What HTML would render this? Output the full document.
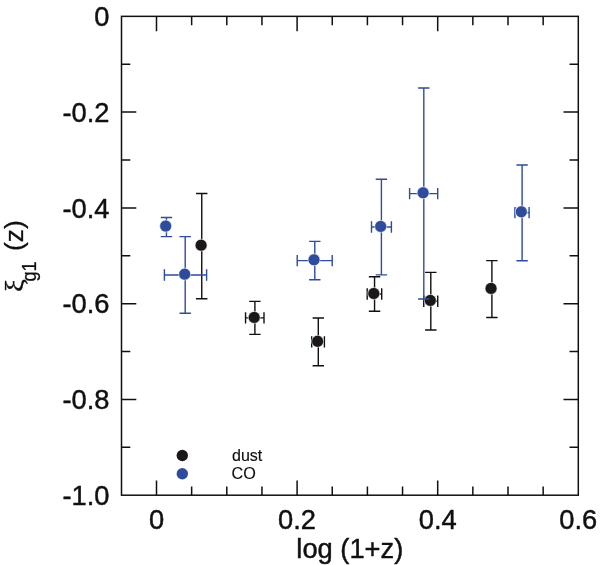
<!DOCTYPE html>
<html lang="en"><head><meta charset="utf-8"><title>xi_g1(z) vs log(1+z)</title>
<style>html,body{margin:0;padding:0;background:#fff}svg{display:block}</style></head>
<body>
<svg width="600" height="565" viewBox="0 0 600 565">
<rect width="600" height="565" fill="#ffffff"/>
<path d="M156.50 495.2 v-14.8 M156.50 16.35 v14.8 M191.65 495.2 v-8.8 M191.65 16.35 v8.8 M226.80 495.2 v-8.8 M226.80 16.35 v8.8 M261.95 495.2 v-8.8 M261.95 16.35 v8.8 M297.10 495.2 v-14.8 M297.10 16.35 v14.8 M332.25 495.2 v-8.8 M332.25 16.35 v8.8 M367.40 495.2 v-8.8 M367.40 16.35 v8.8 M402.55 495.2 v-8.8 M402.55 16.35 v8.8 M437.70 495.2 v-14.8 M437.70 16.35 v14.8 M472.85 495.2 v-8.8 M472.85 16.35 v8.8 M508.00 495.2 v-8.8 M508.00 16.35 v8.8 M543.15 495.2 v-8.8 M543.15 16.35 v8.8 M121.5 64.24 h8.8 M578.3 64.24 h-8.8 M121.5 112.12 h14.8 M578.3 112.12 h-14.8 M121.5 160.01 h8.8 M578.3 160.01 h-8.8 M121.5 207.89 h14.8 M578.3 207.89 h-14.8 M121.5 255.78 h8.8 M578.3 255.78 h-8.8 M121.5 303.66 h14.8 M578.3 303.66 h-14.8 M121.5 351.55 h8.8 M578.3 351.55 h-8.8 M121.5 399.43 h14.8 M578.3 399.43 h-14.8 M121.5 447.32 h8.8 M578.3 447.32 h-8.8" stroke="#111011" stroke-width="1.5" fill="none"/>
<rect x="121.5" y="16.35" width="456.80" height="478.85" fill="none" stroke="#111011" stroke-width="1.5"/>
<path d="M201.75 193.5 V298.7 M196.05 193.5 h11.4 M196.05 298.7 h11.4 M254.9 301.4 V334.4 M249.20 301.4 h11.4 M249.20 334.4 h11.4 M245.55 317.9 H264.0 M245.55 312.20 v11.4 M264.0 312.20 v11.4 M318.3 318.0 V365.8 M312.60 318.0 h11.4 M312.60 365.8 h11.4 M311.7 341.9 H324.4 M311.7 336.20 v11.4 M324.4 336.20 v11.4 M374.55 276.7 V311.3 M368.85 276.7 h11.4 M368.85 311.3 h11.4 M367.2 294.0 H381.7 M367.2 288.30 v11.4 M381.7 288.30 v11.4 M430.8 272.4 V330.0 M425.10 272.4 h11.4 M425.10 330.0 h11.4 M423.75 301.2 H437.75 M423.75 295.50 v11.4 M437.75 295.50 v11.4 M491.9 260.6 V317.55 M486.20 260.6 h11.4 M486.20 317.55 h11.4" stroke="#111011" stroke-width="1.4" fill="none"/>
<circle cx="201.1" cy="245.2" r="6.0" fill="#1c1819" stroke="#fff" stroke-width="0.6"/><circle cx="254.2" cy="317.4" r="6.0" fill="#1c1819" stroke="#fff" stroke-width="0.6"/><circle cx="317.6" cy="341.3" r="6.0" fill="#1c1819" stroke="#fff" stroke-width="0.6"/><circle cx="373.8" cy="293.5" r="6.0" fill="#1c1819" stroke="#fff" stroke-width="0.6"/><circle cx="430.3" cy="300.4" r="6.0" fill="#1c1819" stroke="#fff" stroke-width="0.6"/><circle cx="491.05" cy="288.4" r="6.0" fill="#1c1819" stroke="#fff" stroke-width="0.6"/>
<path d="M166.45 217.5 V236.65 M160.75 217.5 h11.4 M160.75 236.65 h11.4 M185.2 236.6 V313.2 M179.50 236.6 h11.4 M179.50 313.2 h11.4 M164.4 275.0 H206.6 M164.4 269.30 v11.4 M206.6 269.30 v11.4 M314.8 241.4 V279.8 M309.10 241.4 h11.4 M309.10 279.8 h11.4 M297.2 260.6 H332.2 M297.2 254.90 v11.4 M332.2 254.90 v11.4 M381.4 179.2 V274.9 M375.70 179.2 h11.4 M375.70 274.9 h11.4 M371.5 227.0 H391.4 M371.5 221.30 v11.4 M391.4 221.30 v11.4 M423.8 88.0 V299.0 M418.10 88.0 h11.4 M418.10 299.0 h11.4 M409.6 193.6 H437.7 M409.6 187.90 v11.4 M437.7 187.90 v11.4 M522.1 165.0 V260.8 M516.40 165.0 h11.4 M516.40 260.8 h11.4 M514.9 212.6 H529.1 M514.9 206.90 v11.4 M529.1 206.90 v11.4" stroke="#2f4c9c" stroke-width="1.4" fill="none"/>
<circle cx="165.7" cy="226.1" r="6.0" fill="#2f4c9c" stroke="#fff" stroke-width="0.6"/><circle cx="184.7" cy="274.15" r="6.0" fill="#2f4c9c" stroke="#fff" stroke-width="0.6"/><circle cx="314.0" cy="259.8" r="6.0" fill="#2f4c9c" stroke="#fff" stroke-width="0.6"/><circle cx="380.7" cy="226.4" r="6.0" fill="#2f4c9c" stroke="#fff" stroke-width="0.6"/><circle cx="423.1" cy="192.8" r="6.0" fill="#2f4c9c" stroke="#fff" stroke-width="0.6"/><circle cx="521.3" cy="211.8" r="6.0" fill="#2f4c9c" stroke="#fff" stroke-width="0.6"/>
<circle cx="182.3" cy="455.5" r="5.7" fill="#1c1819"/>
<circle cx="182.3" cy="473.8" r="5.7" fill="#2f4c9c"/>
<g font-family="'Liberation Sans', Arial, Helvetica, sans-serif" fill="#111011" stroke="#111011" stroke-width="0.45" stroke-linejoin="round">
<text x="232" y="460.6" font-size="16" stroke-width="0.15">dust</text>
<text x="231.6" y="479.2" font-size="16.2" stroke-width="0.15">CO</text>
<text x="109.5" y="26.0" font-size="27.3" text-anchor="end">0</text>
<text x="109.5" y="121.7" font-size="27.3" text-anchor="end">-0.2</text>
<text x="109.5" y="217.5" font-size="27.3" text-anchor="end">-0.4</text>
<text x="109.5" y="313.3" font-size="27.3" text-anchor="end">-0.6</text>
<text x="109.5" y="409.0" font-size="27.3" text-anchor="end">-0.8</text>
<text x="109.5" y="504.8" font-size="27.3" text-anchor="end">-1.0</text>
<text x="156.5" y="529.1" font-size="27.3" text-anchor="middle">0</text>
<text x="297.1" y="529.1" font-size="27.3" text-anchor="middle">0.2</text>
<text x="437.7" y="529.1" font-size="27.3" text-anchor="middle">0.4</text>
<text x="578.3" y="529.1" font-size="27.3" text-anchor="middle">0.6</text>
<text x="349.8" y="558.3" font-size="27.3" text-anchor="middle">log (1+z)</text>
<text transform="translate(23.4 291.9) rotate(-90) scale(1.16 1)" font-size="24.8" font-family="'Liberation Serif', serif" stroke-width="0.3">ξ</text>
<text transform="translate(36 281.5) rotate(-90) scale(0.94 1)" font-size="19.3" stroke-width="0.3">g1</text>
<text transform="translate(23.2 251.0) rotate(-90)" font-size="26.4" stroke-width="0.3">(z)</text>
</g>
</svg>
</body></html>
